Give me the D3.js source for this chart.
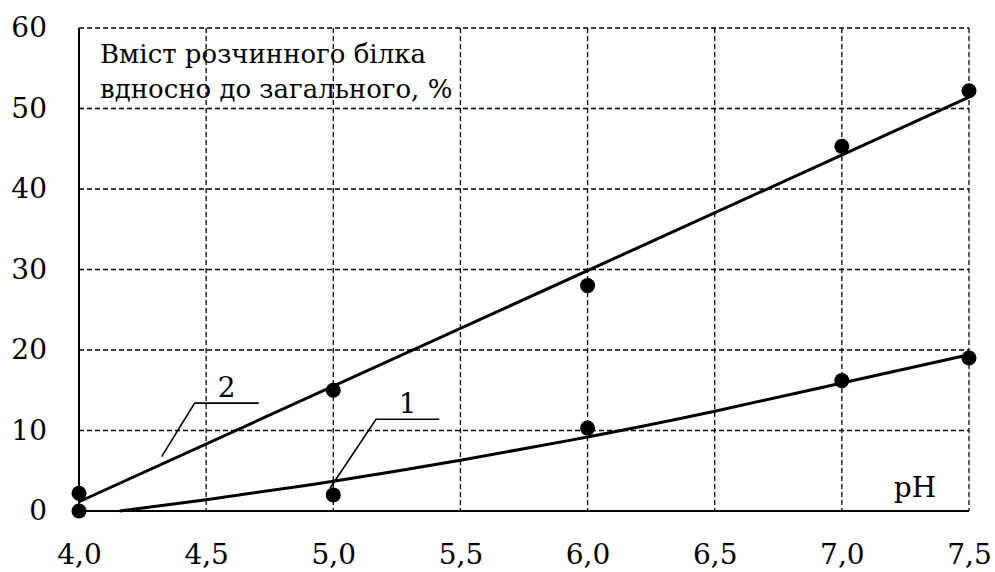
<!DOCTYPE html>
<html>
<head>
<meta charset="utf-8">
<script src="https://cdn.jsdelivr.net/npm/d3@7"></script>
<style>
  html, body { margin: 0; padding: 0; background: #fff; }
  svg { display: block; }
</style>
</head>
<body>
<svg id="chart" width="995" height="572"></svg>
<script>
// pH values at which soluble protein was measured
const phValues = [4.0, 5.0, 6.0, 7.0, 7.5];
// Series 1 and 2: soluble protein relative to total, %
const series1 = [0, 2.0, 10.3, 16.2, 19.0];
const series2 = [2.2, 15.0, 28.0, 45.3, 52.2];

// Trend curve of series 1 (smooth, slightly convex)
const trend1Ph = [4.16, 4.5, 5.0, 5.5, 6.0, 6.5, 7.0, 7.5];
const trend1Val = [0, 1.4, 3.7, 6.3, 9.2, 12.4, 15.9, 19.4];
// Linear trend of series 2
const trend2Ph = [4.0, 7.5];
const trend2Val = [1.15, 51.4];

// Axis ticks
const xTicks = [4.0, 4.5, 5.0, 5.5, 6.0, 6.5, 7.0, 7.5];
const yTicks = [0, 10, 20, 30, 40, 50, 60];

// Curve labels with leader lines (in data units)
const curveLabels = [
  { text: "2", pts: [[4.325, 6.75], [4.455, 13.4], [4.707, 13.4]] },
  { text: "1", pts: [[4.987, 2.82], [5.168, 11.4], [5.417, 11.4]] }
];

const titleLines = ["Вміст розчинного білка", "вдносно до загального, %"];
const xAxisName = "pH";

const FONT = "DejaVu Serif";

const W = 995, H = 572;
const margin = { top: 28, right: 26, bottom: 61, left: 79 };
const iw = W - margin.left - margin.right;
const ih = H - margin.top - margin.bottom;

const svg = d3.select("#chart");
const g = svg.append("g").attr("transform", `translate(${margin.left},${margin.top})`);

const x = d3.scaleLinear().domain([4.0, 7.5]).range([0, iw]);
const y = d3.scaleLinear().domain([0, 60]).range([ih, 0]);

// Dashed grid
g.append("g")
  .selectAll("line")
  .data(xTicks.filter(d => d > 4.0))
  .join("line")
  .attr("x1", d => x(d)).attr("x2", d => x(d))
  .attr("y1", 0).attr("y2", ih)
  .attr("stroke", "#000").attr("stroke-width", 1.3)
  .attr("stroke-dasharray", "5,3");

g.append("g")
  .selectAll("line")
  .data(yTicks.filter(d => d > 0))
  .join("line")
  .attr("x1", 0).attr("x2", iw)
  .attr("y1", d => y(d)).attr("y2", d => y(d))
  .attr("stroke", "#000").attr("stroke-width", 1.3)
  .attr("stroke-dasharray", "5,3");

// Axes
const fmt = d => d3.format(".1f")(d).replace(".", ",");

const xAxis = g.append("g")
  .attr("transform", `translate(0,${ih})`)
  .call(d3.axisBottom(x).tickValues(xTicks).tickSize(0).tickPadding(33).tickFormat(fmt));
xAxis.attr("font-family", FONT).attr("font-size", 28);
xAxis.select(".domain").attr("stroke", "#000").attr("stroke-width", 2).attr("d", `M0,0H${iw}`);
xAxis.selectAll("text").attr("fill", "#000");

const yAxis = g.append("g")
  .call(d3.axisLeft(y).tickValues(yTicks).tickSize(0).tickPadding(32).tickFormat(d3.format("d")));
yAxis.attr("font-family", FONT).attr("font-size", 28);
yAxis.select(".domain").attr("stroke", "#000").attr("stroke-width", 2).attr("d", `M0,${ih}V0`);
yAxis.selectAll("text").attr("fill", "#000");

// Trend lines
const line1 = d3.line().x(d => x(d[0])).y(d => y(d[1])).curve(d3.curveNatural);
g.append("path")
  .datum(trend1Ph.map((p, i) => [p, trend1Val[i]]))
  .attr("d", line1)
  .attr("fill", "none").attr("stroke", "#000").attr("stroke-width", 3);

const line2 = d3.line().x(d => x(d[0])).y(d => y(d[1]));
g.append("path")
  .datum(trend2Ph.map((p, i) => [p, trend2Val[i]]))
  .attr("d", line2)
  .attr("fill", "none").attr("stroke", "#000").attr("stroke-width", 3);

// Measured points
[series1, series2].forEach(s => {
  g.append("g")
    .selectAll("circle")
    .data(phValues.map((p, i) => [p, s[i]]))
    .join("circle")
    .attr("cx", d => x(d[0]))
    .attr("cy", d => y(d[1]))
    .attr("r", 7.5)
    .attr("fill", "#000");
});

// Curve labels
const leader = d3.line().x(d => x(d[0])).y(d => y(d[1]));
curveLabels.forEach(l => {
  g.append("path")
    .attr("d", leader(l.pts))
    .attr("fill", "none").attr("stroke", "#000").attr("stroke-width", 1.6);
  const mid = (l.pts[1][0] + l.pts[2][0]) / 2;
  g.append("text")
    .attr("x", x(mid))
    .attr("y", y(l.pts[1][1]) - 6)
    .attr("text-anchor", "middle")
    .attr("font-family", FONT)
    .attr("font-size", 28)
    .text(l.text);
});

// Axis titles
const title = g.append("text")
  .attr("x", 21)
  .attr("y", 35)
  .attr("font-family", FONT)
  .attr("font-size", 26);
titleLines.forEach((t, i) => {
  title.append("tspan").attr("x", 21).attr("dy", i === 0 ? 0 : 35).text(t);
});

g.append("text")
  .attr("x", 836)
  .attr("y", ih - 14)
  .attr("text-anchor", "middle")
  .attr("font-family", FONT)
  .attr("font-size", 28)
  .text(xAxisName);
</script>
</body>
</html>
